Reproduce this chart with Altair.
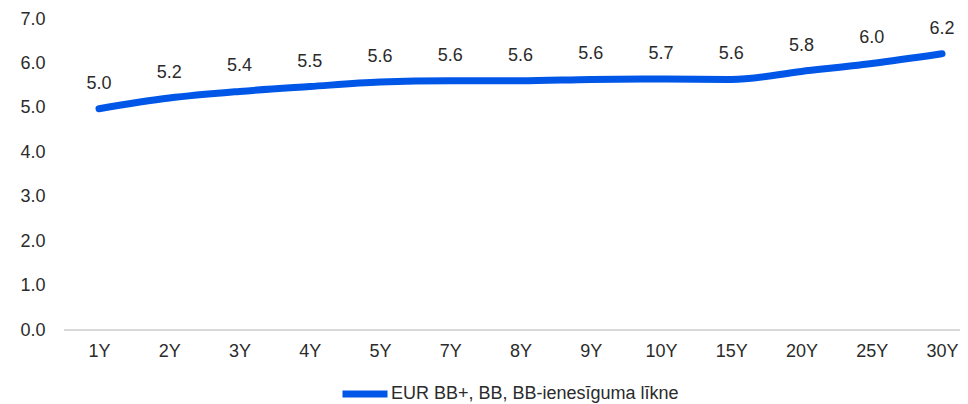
import altair as alt
import pandas as pd

tenors = ["1Y", "2Y", "3Y", "4Y", "5Y", "7Y", "8Y", "9Y", "10Y", "15Y", "20Y", "25Y", "30Y"]
yields = [4.98, 5.22, 5.37, 5.48, 5.58, 5.61, 5.61, 5.64, 5.65, 5.64, 5.82, 6.00, 6.22]
series_name = "EUR BB+, BB, BB-ienesīguma līkne"

df = pd.DataFrame({"tenor": tenors, "value": yields, "series": [series_name] * len(tenors)})

FONT = "Liberation Sans"
TXT = "#2b2b2b"
BLUE = "#0057E7"

x = alt.X("tenor:N", sort=tenors, scale=alt.Scale(type="point", range=[35, 878], padding=0),
          axis=alt.Axis(title=None, labelAngle=0, ticks=False, domain=False,
                        labelPadding=12, labelFontSize=18, labelColor=TXT,
                        labelFont=FONT, grid=False))
y = alt.Y("value:Q", scale=alt.Scale(domain=[0, 7], nice=False, zero=True),
          axis=alt.Axis(title=None, values=[0, 1, 2, 3, 4, 5, 6, 7], format=".1f", ticks=False,
                        domain=False, grid=False, labelPadding=19, labelFontSize=18,
                        labelColor=TXT, labelFont=FONT))

base_rule = alt.Chart(df).mark_rule(color="#d9d9d9", strokeWidth=1.5).encode(
    y=alt.datum(0), x=alt.value(0), x2=alt.value(896)
)

line = alt.Chart(df).mark_line(strokeWidth=7, strokeCap="round", interpolate="monotone").encode(
    x=x, y=y,
    color=alt.Color("series:N", scale=alt.Scale(range=[BLUE]),
                    legend=alt.Legend(title=None, orient="none", legendX=275, legendY=349,
                                      symbolType="stroke", symbolStrokeWidth=7, symbolSize=2025,
                                      labelFontSize=18, labelColor=TXT, labelFont=FONT,
                                      labelOffset=0, padding=0, labelLimit=600))
)

labels = alt.Chart(df).mark_text(dy=-25, fontSize=18, font=FONT, color=TXT, baseline="middle").encode(
    x=alt.X("tenor:N", sort=tenors), y="value:Q", text=alt.Text("value:Q", format=".1f")
)

chart = (base_rule + line + labels).properties(
    width=896, height=311,
    autosize=alt.AutoSizeParams(type="none"),
    padding={"left": 56, "top": 11, "right": 0, "bottom": 74},
).configure_view(stroke=None)

chart.save("out.html", embed_options={"renderer": "svg", "actions": False})
